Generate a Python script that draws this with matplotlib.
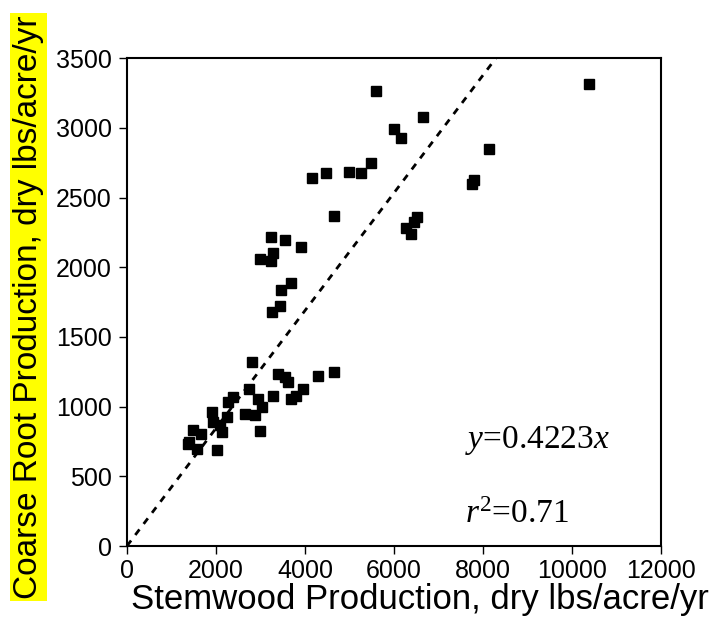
import numpy as np
from matplotlib import pyplot as plt

plt.rcParams['mathtext.fontset'] = 'custom'
plt.rcParams['mathtext.rm'] = 'Liberation Serif'
plt.rcParams['mathtext.it'] = 'Liberation Serif:italic'

# stemwood vs coarse root production, dry lbs/acre/yr
stemwood = [10370, 5595, 6644, 6007, 6157, 8144, 7760, 7800, 6517, 6442, 6277, 6389,
            5489, 5257, 4994, 4477, 4162, 4642, 3240, 3555, 3915, 3292, 2992, 3240,
            3690, 3465, 3442, 3255, 2820, 3404, 3550, 3620, 4282, 4657, 3952, 3802,
            3682, 3277, 2745, 2955, 3029, 2880, 2655, 2992, 2392, 2280, 2242, 2130,
            2092, 1905, 1942, 2017, 1492, 1665, 1380, 1567, 1400]
coarse_root = [3312, 3264, 3080, 2989, 2925, 2846, 2600, 2625, 2362, 2327, 2279, 2236,
               2745, 2678, 2685, 2673, 2638, 2370, 2219, 2195, 2143, 2104, 2056, 2047,
               1884, 1836, 1722, 1681, 1322, 1234, 1210, 1180, 1222, 1250, 1124, 1076,
               1052, 1076, 1126, 1052, 999, 940, 947, 827, 1071, 1035, 928, 820,
               868, 963, 892, 689, 832, 801, 730, 694, 745]
slope = 0.4223
r2 = 0.71

fig = plt.figure(figsize=(7.21, 6.32), dpi=100)
ax = fig.add_axes([0.176, 0.136, 0.741, 0.772])

ax.plot(stemwood, coarse_root, 's', color='black', markersize=7)

xl = np.array([0, 3500 / slope])
ax.plot(xl, slope * xl, color='black', linestyle=(0, (2.5, 2.5)), linewidth=2)

ax.set_xlim(0, 12000)
ax.set_ylim(0, 3500)
ax.set_xticks(np.arange(0, 12001, 2000))
ax.set_yticks(np.arange(0, 3501, 500))

for s in ax.spines.values():
    s.set_linewidth(1.5)
ax.tick_params(direction='out', length=6, width=1, labelsize=18)
ax.tick_params(axis='y', pad=5)
for lab in ax.get_xticklabels() + ax.get_yticklabels():
    lab.set_family('Liberation Sans')

ax.set_xlabel('Stemwood Production, dry lbs/acre/yr', family='Liberation Sans',
              fontsize=25)
ax.xaxis.set_label_coords(0.548, -0.076)
ax.set_ylabel('Coarse Root Production, dry lbs/acre/yr', family='Liberation Sans',
              fontsize=24,
              bbox=dict(facecolor='yellow', edgecolor='none', pad=2))
ax.yaxis.set_label_coords(-0.155, 0.49)

ax.text(7600, 760, '$y$=0.4223$x$', family='Liberation Serif', fontsize=24, va='center')
ax.text(7600, 222, '$r^2$=0.71', family='Liberation Serif', fontsize=24, va='center')

fig.savefig('out.png', dpi=100)
